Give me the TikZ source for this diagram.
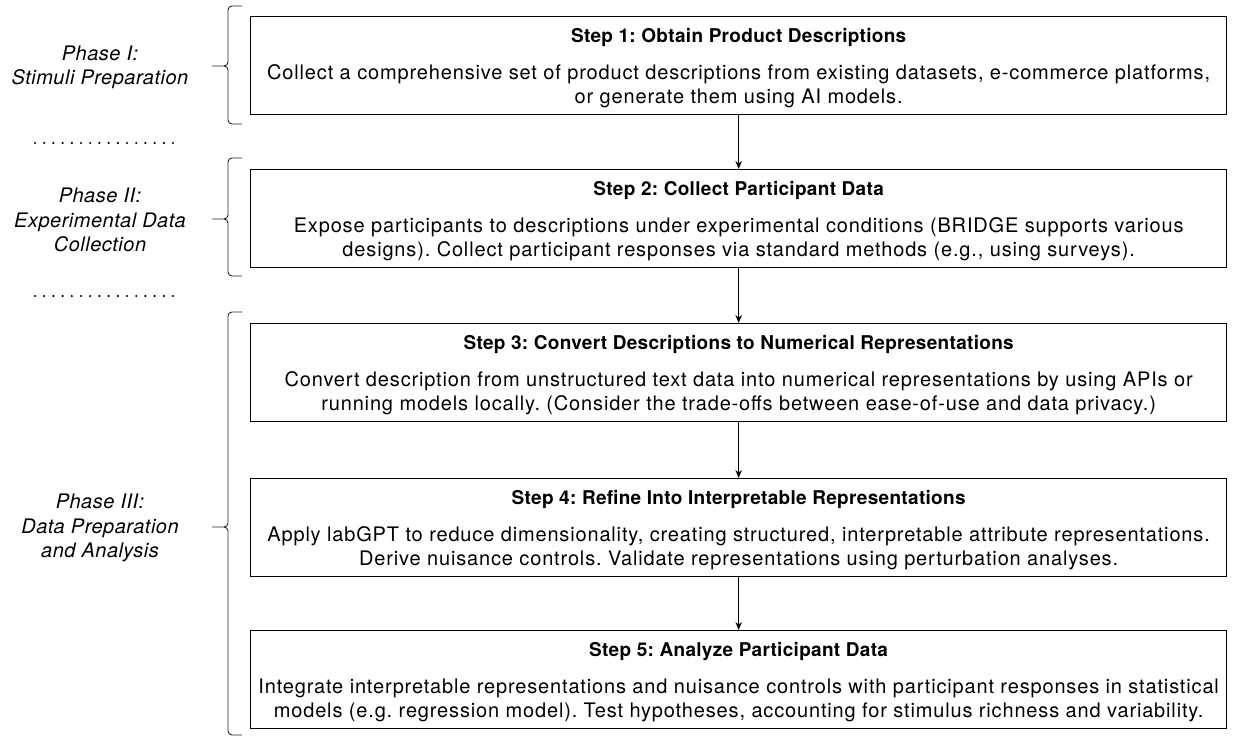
\documentclass[tikz,border=0pt]{standalone}
\usepackage{fontspec}
\setmainfont{TeX Gyre Heros}[LetterSpace=2.5]
\newfontfamily\bodyfont{TeX Gyre Heros}[LetterSpace=4.2]
\newfontfamily\titlefont{TeX Gyre Heros}[LetterSpace=1.6]
\usetikzlibrary{arrows.meta}
\frenchspacing
% title line of a step box, followed by its two description lines
\newcommand{\stepcontent}[3]{{\fontsize{19}{24}\selectfont\titlefont\bfseries\rule{0pt}{21pt}#1}\\[12.6pt]
  #2\\ #3\rule[-6pt]{0pt}{0pt}}
\begin{document}
\begin{tikzpicture}[x={(1pt,0)},y={(0,-1pt)},
  stepbox/.style={draw=black,line width=1.3pt,minimum width=976pt,minimum height=98pt,
    anchor=north west,align=center,inner sep=0pt,font=\fontsize{20}{24}\selectfont\bodyfont},
  phase/.style={align=center,font=\fontsize{20}{24.5}\selectfont\itshape},
  flow/.style={line width=0.9pt,-{Stealth[length=8pt,width=6.5pt]}},
  bracepath/.style={line width=0.9pt,black!85}]
\useasboundingbox (0,0) rectangle (1233,738);

% step boxes
\node[stepbox] (s1) at (250,16) {\stepcontent{Step 1: Obtain Product Descriptions}
  {Collect a comprehensive set of product descriptions from existing datasets, e-commerce platforms,}
  {or generate them using AI models.}};
\node[stepbox] (s2) at (250,169) {\stepcontent{Step 2: Collect Participant Data}
  {Expose participants to descriptions under experimental conditions (BRIDGE supports various}
  {designs). Collect participant responses via standard methods (e.g., using surveys).}};
\node[stepbox] (s3) at (250,323) {\stepcontent{Step 3: Convert Descriptions to Numerical Representations}
  {Convert description from unstructured text data into numerical representations by using APIs or}
  {running models locally. (Consider the trade-offs between ease-of-use and data privacy.)}};
\node[stepbox] (s4) at (250,478) {\stepcontent{Step 4: Refine Into Interpretable Representations}
  {Apply labGPT to reduce dimensionality, creating structured, interpretable attribute representations.}
  {Derive nuisance controls. Validate representations using perturbation analyses.}};
\node[stepbox] (s5) at (250,630) {\stepcontent{Step 5: Analyze Participant Data}
  {Integrate interpretable representations and nuisance controls with participant responses in statistical}
  {models (e.g. regression model). Test hypotheses, accounting for stimulus richness and variability.}};

% flow arrows
\draw[flow] (s1.south) -- (s2.north);
\draw[flow] (s2.south) -- (s3.north);
\draw[flow] (s3.south) -- (s4.north);
\draw[flow] (s4.south) -- (s5.north);

% phase labels
\node[phase] (p1) at (100,67.5) {Phase I:\\Stimuli Preparation};
\node[phase] (p2) at (100,220) {Phase II:\\Experimental Data\\Collection};
\node[phase] (p3) at (100,528) {Phase III:\\Data Preparation\\and Analysis};

% curly braces grouping the steps
\foreach \top/\mid/\bot in {6/66/124, 158/219/276, 312/527/735}{
  \draw[bracepath] (242,\top) -- (232,\top) to[out=180,in=90] (228,\top+4)
    -- (228,\mid-4) to[out=-90,in=0] (224,\mid) -- (212,\mid);
  \draw[bracepath] (224,\mid) to[out=0,in=90] (228,\mid+4)
    -- (228,\bot-4) to[out=-90,in=180] (232,\bot) -- (242,\bot);
}

% dotted separators between phases
\foreach \yy in {143,296}{
  \foreach \i in {0,...,15}{
    \fill (35+\i*9.2,\yy) circle (1.2pt);
  }
}
\end{tikzpicture}
\end{document}
